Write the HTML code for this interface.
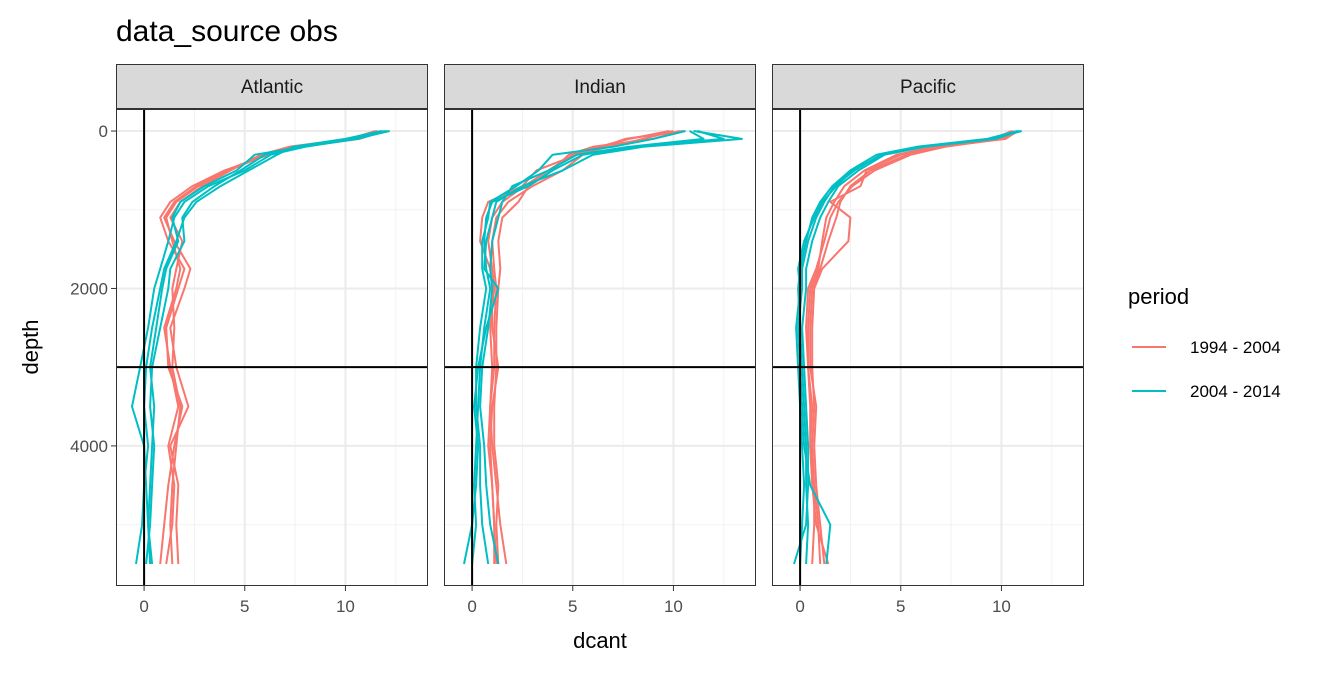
<!DOCTYPE html>
<html><head><meta charset="utf-8"><style>
body{margin:0;background:#fff;font-family:"Liberation Sans",sans-serif}
</style></head><body>
<svg width="1344" height="672" xmlns="http://www.w3.org/2000/svg" font-family="Liberation Sans, sans-serif">
<text x="116" y="41" font-size="30" fill="#000">data_source obs</text>
<g id="panels"></g>
<text x="600" y="648" font-size="22" text-anchor="middle">dcant</text>
<text transform="translate(38,347) rotate(-90)" font-size="22" text-anchor="middle">depth</text>
<g>
<text x="1128" y="304" font-size="22">period</text>
<line x1="1132" x2="1166" y1="347" y2="347" stroke="#F8766D" stroke-width="2"/>
<text x="1190" y="353" font-size="17">1994 - 2004</text>
<line x1="1132" x2="1166" y1="391" y2="391" stroke="#00BFC4" stroke-width="2"/>
<text x="1190" y="397" font-size="17">2004 - 2014</text>
</g>
</svg>
<script>
const basins = ["Atlantic","Indian","Pacific"];
const depths = [0,100,200,300,500,700,900,1100,1400,1750,2000,2500,3000,3500,4000,4500,5000,5500];
const xTicks = [0,5,10];
const yTicks = [0,2000,4000];
const atlantic1994 = [
 [11.8,10.5,7.5,6.0,4.1,2.6,1.5,1.0,1.5,2.3,2.0,1.3,1.6,2.2,1.3,1.7,1.6,1.7],
 [11.5,10.2,7.2,5.8,4.3,2.9,1.8,1.3,1.9,1.6,1.4,1.5,1.4,1.8,1.6,1.4,1.3,1.4],
 [11.9,10.7,7.8,6.2,4.0,2.4,1.3,0.8,1.2,2.0,1.7,1.1,1.2,1.9,1.5,1.2,1.0,0.8],
 [11.6,10.4,7.6,6.1,4.2,2.7,1.6,1.1,1.4,1.8,1.6,1.0,1.3,1.7,1.2,1.5,1.4,1.1]];
const atlantic2004 = [
 [12.2,10.5,8.0,6.3,5.0,3.2,2.0,1.5,1.2,0.8,0.5,0.2,-0.2,-0.6,0.0,0.1,0.2,0.3],
 [12.0,10.2,7.6,6.0,4.8,3.5,2.4,1.9,2.0,1.3,1.2,0.8,0.4,0.3,0.5,0.4,0.3,0.1],
 [11.8,10.0,7.4,6.6,5.2,3.8,2.6,2.0,1.6,1.0,0.8,0.4,0.1,0.0,0.2,0.0,-0.1,-0.4],
 [12.1,10.6,7.9,5.5,4.6,3.0,1.8,1.4,1.7,1.1,0.9,0.6,0.3,0.5,0.4,0.3,0.2,0.4]];
const indian1994 = [
 [10.5,7.6,6.5,5.5,4.5,3.0,1.8,1.2,1.0,1.1,1.2,1.1,1.1,0.9,1.0,1.2,1.4,1.7],
 [10.0,8.5,6.8,5.2,3.2,2.5,0.8,0.5,0.4,0.9,1.0,1.0,1.3,1.0,0.9,1.0,1.1,1.2],
 [10.3,9.0,6.0,4.8,4.0,2.8,2.3,1.5,1.3,1.4,1.3,1.2,1.2,1.1,1.1,1.3,1.2,1.3],
 [9.8,7.8,6.3,5.0,3.8,2.6,1.5,1.0,0.8,1.0,1.1,0.9,1.0,0.9,0.8,1.0,1.1,1.1]];
const indian2004 = [
 [11.0,13.4,8.5,6.0,4.5,2.5,1.2,1.0,0.7,0.6,1.3,0.7,0.3,0.1,0.3,0.2,0.0,-0.4],
 [10.8,11.5,7.8,5.2,3.8,2.0,1.5,1.3,1.0,0.9,1.0,0.8,0.5,0.4,0.6,0.7,0.9,1.3],
 [10.6,9.0,7.0,4.0,3.3,2.2,0.9,0.8,0.5,0.5,0.7,0.4,0.2,0.2,0.4,0.4,0.5,0.8],
 [11.2,12.5,8.0,5.5,4.0,2.8,1.0,0.7,0.6,0.7,0.9,0.6,0.4,0.3,0.2,0.1,0.2,0.0]];
const pacific1994 = [
 [10.8,10.2,7.0,5.3,3.5,2.5,2.0,1.8,1.4,1.0,0.6,0.5,0.5,0.8,0.7,0.8,1.0,1.2],
 [10.6,9.8,6.8,5.0,3.3,3.0,1.5,2.5,2.4,1.1,0.7,0.6,0.6,0.7,0.6,0.7,0.9,1.0],
 [10.5,9.6,6.6,4.8,3.2,2.2,1.7,1.3,1.1,0.9,0.5,0.4,0.4,0.6,0.5,0.6,0.8,1.4],
 [10.9,10.0,7.2,5.5,3.7,2.6,1.9,1.5,1.2,0.8,0.4,0.3,0.4,0.5,0.5,0.7,0.7,0.6]];
const pacific2004 = [
 [11.0,9.5,6.0,4.0,2.7,1.7,1.2,0.8,0.4,0.1,0.1,-0.1,0.0,0.1,0.2,0.5,1.5,1.3],
 [10.8,9.3,5.8,3.8,2.5,1.6,1.0,0.6,0.3,0.0,-0.1,0.0,0.1,0.2,0.3,0.3,0.4,0.3],
 [10.9,9.7,6.2,4.2,2.9,1.9,1.4,1.0,0.6,0.3,0.3,0.1,0.2,0.3,0.4,0.4,0.3,-0.3],
 [11.0,9.4,5.9,4.1,2.6,1.8,1.1,0.7,0.2,-0.1,0.0,-0.2,-0.1,0.0,0.1,0.2,0.1,0.0]];
const seriesByBasin = [[atlantic1994,atlantic2004],[indian1994,indian2004],[pacific1994,pacific2004]];
const colors = ["#F8766D","#00BFC4"];
const NS="http://www.w3.org/2000/svg";
const panelX=[116,444,772], panelW=312, pTop=109, pBottom=586;
const xMin=-1.395, xMax=14.1, yMin=-280, yMax=5780;
function mk(tag,attrs,parent){const e=document.createElementNS(NS,tag);for(const k in attrs)e.setAttribute(k,attrs[k]);parent.appendChild(e);return e;}
const root=document.getElementById('panels');
basins.forEach((b,i)=>{
 const x0=panelX[i];
 const sx=v=>x0+(v-xMin)/(xMax-xMin)*panelW;
 const sy=d=>pTop+(d-yMin)/(yMax-yMin)*(pBottom-pTop);
 const g=mk('g',{},root);
 
 
 const strip=mk('rect',{x:x0+0.5,y:64.5,width:panelW-1,height:44,fill:'#d9d9d9',stroke:'#333','stroke-width':1},g);
 
 
 const st=mk('text',{x:x0+panelW/2,y:93,'font-size':19,'text-anchor':'middle',fill:'#1a1a1a'},g);
 st.textContent=b;
 
 
 mk('rect',{x:x0,y:pTop,width:panelW,height:pBottom-pTop,fill:'#fff'},g);
 [2.5,7.5,12.5].forEach(v=>mk('line',{x1:sx(v),x2:sx(v),y1:pTop,y2:pBottom,stroke:'#f2f2f2','stroke-width':1},g));
 [1000,3000,5000].forEach(v=>mk('line',{x1:x0,x2:x0+panelW,y1:sy(v),y2:sy(v),stroke:'#f2f2f2','stroke-width':1},g));
 xTicks.forEach(v=>{
  mk('line',{x1:sx(v),x2:sx(v),y1:pTop,y2:pBottom,stroke:'#ebebeb','stroke-width':2},g);
  mk('line',{x1:sx(v),x2:sx(v),y1:pBottom,y2:pBottom+5,stroke:'#333','stroke-width':1},g);
  const t=mk('text',{x:sx(v),y:pBottom+26,'font-size':17,'text-anchor':'middle',fill:'#4d4d4d'},g);
  t.textContent=v;
  
  
 });
 yTicks.forEach(v=>mk('line',{x1:x0,x2:x0+panelW,y1:sy(v),y2:sy(v),stroke:'#ebebeb','stroke-width':2},g));
 if(i===0){yTicks.forEach(v=>{
  mk('line',{x1:x0-5,x2:x0,y1:sy(v),y2:sy(v),stroke:'#333','stroke-width':1},g);
  const t=mk('text',{x:x0-8,y:sy(v)+6,'font-size':17,'text-anchor':'end',fill:'#4d4d4d'},g);
  t.textContent=v;
  
  
 });}
 seriesByBasin[i].forEach((lines,p)=>{
  lines.forEach(vals=>{
   const pts=vals.map((v,k)=>sx(v).toFixed(1)+','+sy(depths[k]).toFixed(1)).join(' ');
   const pl=mk('polyline',{points:pts,fill:'none',stroke:colors[p],'stroke-width':2,'stroke-linejoin':'round'},g);
   
   
  });
 });
 mk('line',{x1:sx(0),x2:sx(0),y1:pTop,y2:pBottom,stroke:'#000','stroke-width':2},g);
 mk('line',{x1:x0,x2:x0+panelW,y1:sy(3000),y2:sy(3000),stroke:'#000','stroke-width':2},g);
 mk('rect',{x:x0+0.5,y:pTop+0.5,width:panelW-1,height:pBottom-pTop-1,fill:'none',stroke:'#333','stroke-width':1},g);
});
</script>
</body></html>
